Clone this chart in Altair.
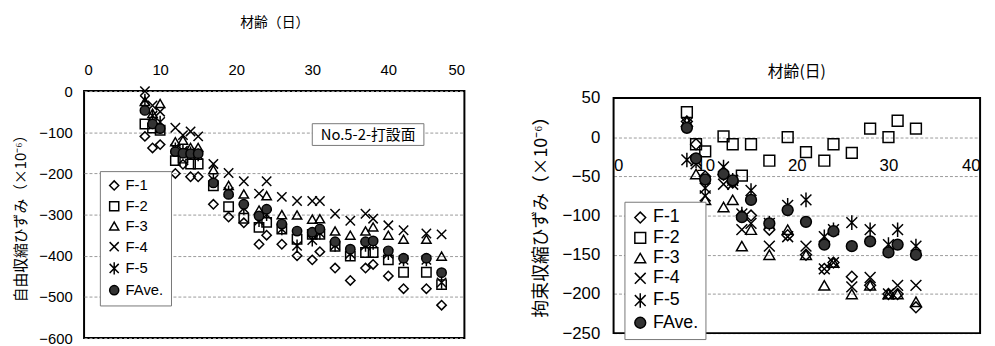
import altair as alt
import pandas as pd

CJK = "Noto Sans CJK JP"
LAT = "Liberation Sans"

series = ["F-1", "F-2", "F-3", "F-4", "F-5", "FAve."]

# ---- left panel: free shrinkage strain ----
days_left = [8, 9, 10, 12, 13, 14, 15, 17, 19, 21, 23, 24, 26, 28, 30, 31, 33, 35, 37, 38, 40, 42, 45, 47]
f1_left = [-110, -138, -130, -200, -178, -208, -208, -275, -306, -320, -372, -350, -372, -400, -410, -390, -430, -460, -430, -421, -449, -480, -480, -520]
f2_left = [-80, -90, -95, -169, -163, -177, -177, -230, -281, -309, -331, -319, -335, -360, -348, -348, -377, -401, -392, -392, -410, -440, -440, -470]
f3_left = [-25, -54, -30, -123, -119, -137, -137, -191, -229, -250, -289, -254, -300, -301, -311, -310, -340, -350, -340, -330, -350, -360, -360, -401]
f4_left = [0, -35, -50, -89, -107, -98, -110, -177, -199, -219, -249, -219, -257, -267, -267, -267, -298, -315, -298, -310, -326, -338, -346, -348]
f5_left = [-22, -60, -75, -140, -145, -150, -155, -215, -245, -285, -315, -300, -335, -376, -362, -345, -375, -395, -375, -370, -395, -410, -410, -465]
fave_left = [-47, -80, -91, -147, -151, -152, -152, -223, -251, -275, -303, -287, -323, -340, -343, -335, -366, -384, -366, -364, -388, -406, -406, -441]

# ---- right panel: restrained shrinkage strain ----
days_right = [8, 9, 10, 12, 13, 14, 15, 17, 19, 21, 23, 24, 26, 28, 30, 31, 33]
f1_right = [20, -9, -50, -48, -58, -100, -100, -118, -125, -150, -168, -160, -178, -189, -200, -200, -217]
f2_right = [32, -9, -18, 1, -9, -49, -9, -30, 0, -19, -30, -9, -20, 11, 0, 21, 11]
f3_right = [20, -47, -80, -89, -80, -139, -118, -150, -118, -150, -189, -160, -200, -189, -200, -200, -210]
f4_right = [18, -34, -75, -60, -60, -118, -110, -139, -127, -139, -168, -160, -191, -179, -200, -189, -189]
f5_right = [-29, -30, -65, -38, -55, -98, -68, -110, -87, -80, -127, -118, -109, -118, -137, -118, -139]
fave_right = [12, -27, -54, -47, -55, -102, -80, -110, -93, -108, -137, -120, -139, -133, -147, -137, -150]

note_text = ["No.5-2-打設面"]


def long_df(days, cols):
    rows = []
    for s, vals in zip(series, cols):
        for d, v in zip(days, vals):
            rows.append({"day": d, "val": v, "series": s})
    return pd.DataFrame(rows)


df_left = long_df(days_left, [f1_left, f2_left, f3_left, f4_left, f5_left, fave_left])
df_right = long_df(days_right, [f1_right, f2_right, f3_right, f4_right, f5_right, fave_right])

X_PATH = "M-1,-1L1,1M-1,1L1,-1"
AST_PATH = "M-1,-1L1,1M-1,1L1,-1M0,-1.35L0,1.35"
shape_range = ["diamond", "square", "triangle-up", X_PATH, AST_PATH, "circle"]
fill_range = ["transparent"] * 5 + ["#333333"]
stroke_range = ["black"] * 6


def legend(x, y, fs, ss, rp):
    return alt.Legend(title=None, orient="none", legendX=x, legendY=y,
                      fillColor="white", strokeColor="#777777", padding=7,
                      labelFont=LAT, labelFontSize=fs, labelColor="black",
                      symbolSize=ss, symbolStrokeWidth=1.5,
                      rowPadding=rp, labelOffset=4)


def encs(leg):
    return dict(
        shape=alt.Shape("series:N", scale=alt.Scale(domain=series, range=shape_range), legend=leg),
        fill=alt.Fill("series:N", scale=alt.Scale(domain=series, range=fill_range), legend=leg),
        stroke=alt.Stroke("series:N", scale=alt.Scale(domain=series, range=stroke_range), legend=leg),
    )


# ---------- LEFT ----------
WL, HL = 385, 250
leg_l = legend(16, 81, 15, 85, 4)
left_pts = alt.Chart(df_left).mark_point(size=90, strokeWidth=1.5, opacity=1).encode(
    x=alt.X("day:Q", scale=alt.Scale(domain=[0, 50], nice=False),
            axis=alt.Axis(orient="top", values=[0, 10, 20, 30, 40, 50], title="材齢（日）",
                          titleFont=CJK, titleFontSize=14, titleFontWeight="normal", titleColor="black",
                          titlePadding=33, labelPadding=14, tickSize=0, ticks=False, domain=False, grid=False,
                          labelFont=LAT, labelFontSize=15, labelColor="black")),
    y=alt.Y("val:Q", scale=alt.Scale(domain=[-600, 0], nice=False),
            axis=alt.Axis(values=list(range(-600, 1, 100)), title="自由収縮ひずみ（×10⁻⁶）",
                          titleFont=CJK, titleFontSize=15, titleFontWeight="normal", titleColor="black",
                          titlePadding=10, labelPadding=12, tickSize=0, ticks=False, domain=False,
                          grid=True, gridColor="#999999", gridDash=[3, 2],
                          labelFont=LAT, labelFontSize=15, labelColor="black")),
    **encs(leg_l),
)
note_df = pd.DataFrame({"t": note_text})
note_box = alt.Chart(note_df).mark_rect(fill="white", stroke="#777777", strokeWidth=1).encode(
    x=alt.value(231), x2=alt.value(344), y=alt.value(33), y2=alt.value(55))
note_txt = alt.Chart(note_df).mark_text(font=CJK, fontSize=15, color="black", baseline="middle", align="center").encode(
    x=alt.value(287.5), y=alt.value(44.5), text="t:N")
left = alt.layer(left_pts, note_box, note_txt).properties(
    width=WL, height=HL, view=alt.ViewBackground(stroke="black", strokeWidth=2))

# ---------- RIGHT ----------
WR, HR = 371, 245
Y_TOP_PAD = 7 * 300 / 238  # space above frame so the right frame sits lower
leg_r = legend(11, 112, 18, 120, 2.5)
right_pts = alt.Chart(df_right).mark_point(size=120, strokeWidth=1.5, opacity=1).encode(
    x=alt.X("day:Q", scale=alt.Scale(domain=[0, 40], nice=False),
            axis=alt.Axis(orient="bottom", offset=-198, values=[0, 10, 20, 30, 40], title=None,
                          labelPadding=20, tickSize=0, ticks=False, domain=False, grid=False,
                          labelFont=LAT, labelFontSize=17, labelColor="black")),
    y=alt.Y("val:Q", scale=alt.Scale(domain=[-250, 50 + Y_TOP_PAD], nice=False),
            axis=alt.Axis(values=list(range(-250, 51, 50)), title="拘束収縮ひずみ（×10⁻⁶）",
                          titleFont=CJK, titleFontSize=18, titleFontWeight="normal", titleColor="black",
                          titlePadding=12, labelPadding=14, tickSize=0, ticks=False, domain=False,
                          grid=True, gridColor="#999999", gridDash=[3, 2],
                          labelFont=LAT, labelFontSize=17, labelColor="black")),
    **encs(leg_r),
)
frame = alt.Chart(pd.DataFrame({"k": [0]})).mark_rect(fill="transparent", stroke="black", strokeWidth=2).encode(
    x=alt.datum(0), x2=alt.datum(40), y=alt.datum(-250), y2=alt.datum(50))
right = alt.layer(frame, right_pts).properties(
    width=WR, height=HR, view=alt.ViewBackground(stroke="transparent"),
    title=alt.TitleParams("材齢(日)", font=CJK, fontSize=16, fontWeight="normal", color="black", offset=9),
)

chart = alt.hconcat(left, right, spacing=67).resolve_scale(
    x="independent", y="independent", shape="independent", fill="independent", stroke="independent"
).resolve_legend(shape="independent", fill="independent", stroke="independent").properties(background="white")

chart.save("out.html", embed_options={"renderer": "svg", "actions": False})
